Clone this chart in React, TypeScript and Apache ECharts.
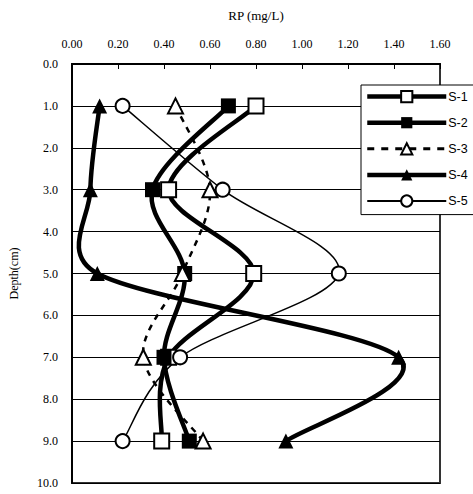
import React, { useEffect, useRef } from "react";
import * as echarts from "echarts";

// Depth of each sampling level (cm)
const depths = [1, 3, 5, 7, 9];

// RP concentration (mg/L) per series at each depth
const s1 = [0.8, 0.42, 0.79, 0.42, 0.39];
const s2 = [0.68, 0.35, 0.49, 0.4, 0.51];
const s3 = [0.45, 0.6, 0.48, 0.31, 0.57];
const s4 = [0.12, 0.08, 0.11, 1.42, 0.93];
const s5 = [0.22, 0.655, 1.16, 0.47, 0.22];

const seriesNames = ["S-1", "S-2", "S-3", "S-4", "S-5"];

const serif = "Liberation Serif";
const sans = "Liberation Sans";

function pairs(vals: number[]) {
  return vals.map((v, i) => [v, depths[i]]);
}

// Smooth spline through pixel points (cardinal spline, handles capped at half a segment)
echarts.graphic.registerShape(
  "spline",
  echarts.graphic.extendShape({
    shape: { pts: [] as number[][] },
    buildPath(ctx: any, shape: any) {
      const p: number[][] = shape.pts;
      if (!p || p.length < 2) return;
      const n = p.length;
      const dist = (a: number[], b: number[]) => Math.hypot(b[0] - a[0], b[1] - a[1]);
      const handles = p.map((cur, i) => {
        const prev = p[Math.max(0, i - 1)];
        const next = p[Math.min(n - 1, i + 1)];
        const vx = (next[0] - prev[0]) / 6;
        const vy = (next[1] - prev[1]) / 6;
        const vl = Math.hypot(vx, vy) || 1;
        const lenIn = i > 0 ? dist(prev, cur) : 0;
        const lenOut = i < n - 1 ? dist(cur, next) : 0;
        const kIn = Math.min(vl, 0.5 * lenIn) / vl;
        const kOut = Math.min(vl, 0.5 * lenOut) / vl;
        return {
          inX: cur[0] - vx * kIn,
          inY: cur[1] - vy * kIn,
          outX: cur[0] + vx * kOut,
          outY: cur[1] + vy * kOut,
        };
      });
      ctx.moveTo(p[0][0], p[0][1]);
      for (let i = 0; i < n - 1; i++) {
        ctx.bezierCurveTo(
          handles[i].outX,
          handles[i].outY,
          handles[i + 1].inX,
          handles[i + 1].inY,
          p[i + 1][0],
          p[i + 1][1]
        );
      }
    },
  })
);

type Spec = {
  name: string;
  vals: number[];
  symbol: string;
  filled: boolean;
  width: number;
  size: number;
  dash?: number[];
};

const specs: Spec[] = [
  { name: "S-1", vals: s1, symbol: "rect", filled: false, width: 4.5, size: 15 },
  { name: "S-2", vals: s2, symbol: "rect", filled: true, width: 4.5, size: 15 },
  { name: "S-3", vals: s3, symbol: "triangle", filled: false, width: 2.5, size: 15, dash: [6, 6] },
  { name: "S-4", vals: s4, symbol: "triangle", filled: true, width: 4.5, size: 15 },
  { name: "S-5", vals: s5, symbol: "circle", filled: false, width: 1.5, size: 14 },
];

export default function App() {
  const ref = useRef<HTMLDivElement>(null);

  useEffect(() => {
    if (!ref.current) return;
    const chart = echarts.init(ref.current, undefined, { renderer: "svg" });

    const curves = specs.map((s) => ({
      name: s.name + " curve",
      type: "custom",
      z: 1,
      silent: true,
      data: pairs(s.vals),
      encode: { x: 0, y: 1 },
      renderItem: (params: any, api: any) => {
        if (params.dataIndex !== 0) return null;
        const pts = s.vals.map((v, k) => api.coord([v, depths[k]]));
        return {
          type: "spline",
          shape: { pts },
          style: {
            stroke: "#000",
            fill: "none",
            lineWidth: s.width,
            lineDash: s.dash || null,
            lineCap: s.dash ? "butt" : "round",
            lineJoin: "round",
          },
        };
      },
    }));

    const markers = specs.map((s) => ({
      name: s.name,
      type: "line",
      z: 3,
      data: pairs(s.vals),
      symbol: s.symbol,
      symbolSize: s.size,
      showAllSymbol: true,
      lineStyle: { color: "#000", width: 0, opacity: 0 },
      itemStyle: {
        color: s.filled ? "#000" : "#fff",
        borderColor: "#000",
        borderWidth: s.filled ? 0 : 2,
        opacity: 1,
      },
      emphasis: { disabled: true },
    }));

    chart.setOption({
      animation: false,
      backgroundColor: "#fff",
      grid: {
        left: 72,
        top: 64,
        right: 33,
        bottom: 11,
        show: true,
        borderColor: "#333",
        borderWidth: 2,
      },
      legend: {
        orient: "vertical",
        left: 361,
        top: 85,
        data: specs.map((s) => ({
          name: s.name,
          lineStyle: {
            color: "#000",
            width: s.width === 1.5 ? 2 : s.width === 2.5 ? 3 : 4.5,
            opacity: 1,
            type: s.dash ? [7, 7] : "solid",
          },
        })),
        itemWidth: 79,
        itemHeight: 14,
        itemGap: 13,
        padding: [5, 6, 7, 4],
        borderColor: "#000",
        borderWidth: 1,
        backgroundColor: "#fff",
        selectedMode: false,
        textStyle: { fontFamily: sans, fontSize: 12.5, color: "#000", padding: [0, 0, 0, -3] },
      },
      xAxis: {
        type: "value",
        position: "top",
        min: 0,
        max: 1.6,
        interval: 0.2,
        name: "RP (mg/L)",
        nameLocation: "middle",
        nameGap: 42,
        nameTextStyle: { fontFamily: serif, fontSize: 13, color: "#000" },
        axisLine: { show: true, lineStyle: { color: "#000", width: 2 } },
        axisTick: { show: true, inside: true, length: 5, lineStyle: { color: "#000" } },
        axisLabel: {
          fontFamily: serif,
          fontSize: 12,
          color: "#000",
          margin: 14,
          formatter: (v: number) => v.toFixed(2),
        },
        splitLine: { show: false },
      },
      yAxis: {
        type: "value",
        inverse: true,
        min: 0,
        max: 10,
        interval: 1,
        name: "Depth(cm)",
        nameLocation: "middle",
        nameGap: 52,
        nameRotate: 90,
        nameTextStyle: { fontFamily: serif, fontSize: 12, color: "#000" },
        axisLine: { show: true, lineStyle: { color: "#000", width: 2 } },
        axisTick: { show: true, inside: true, length: 5, lineStyle: { color: "#000" } },
        axisLabel: {
          fontFamily: serif,
          fontSize: 12,
          color: "#000",
          margin: 14,
          formatter: (v: number) => v.toFixed(1),
        },
        splitLine: { show: true, lineStyle: { color: "#000", width: 1 } },
      },
      series: [...curves, ...markers],
    });

    return () => chart.dispose();
  }, []);

  return (
    <div
      ref={ref}
      style={{ position: "fixed", left: 0, top: 0, width: 473, height: 494 }}
    />
  );
}
